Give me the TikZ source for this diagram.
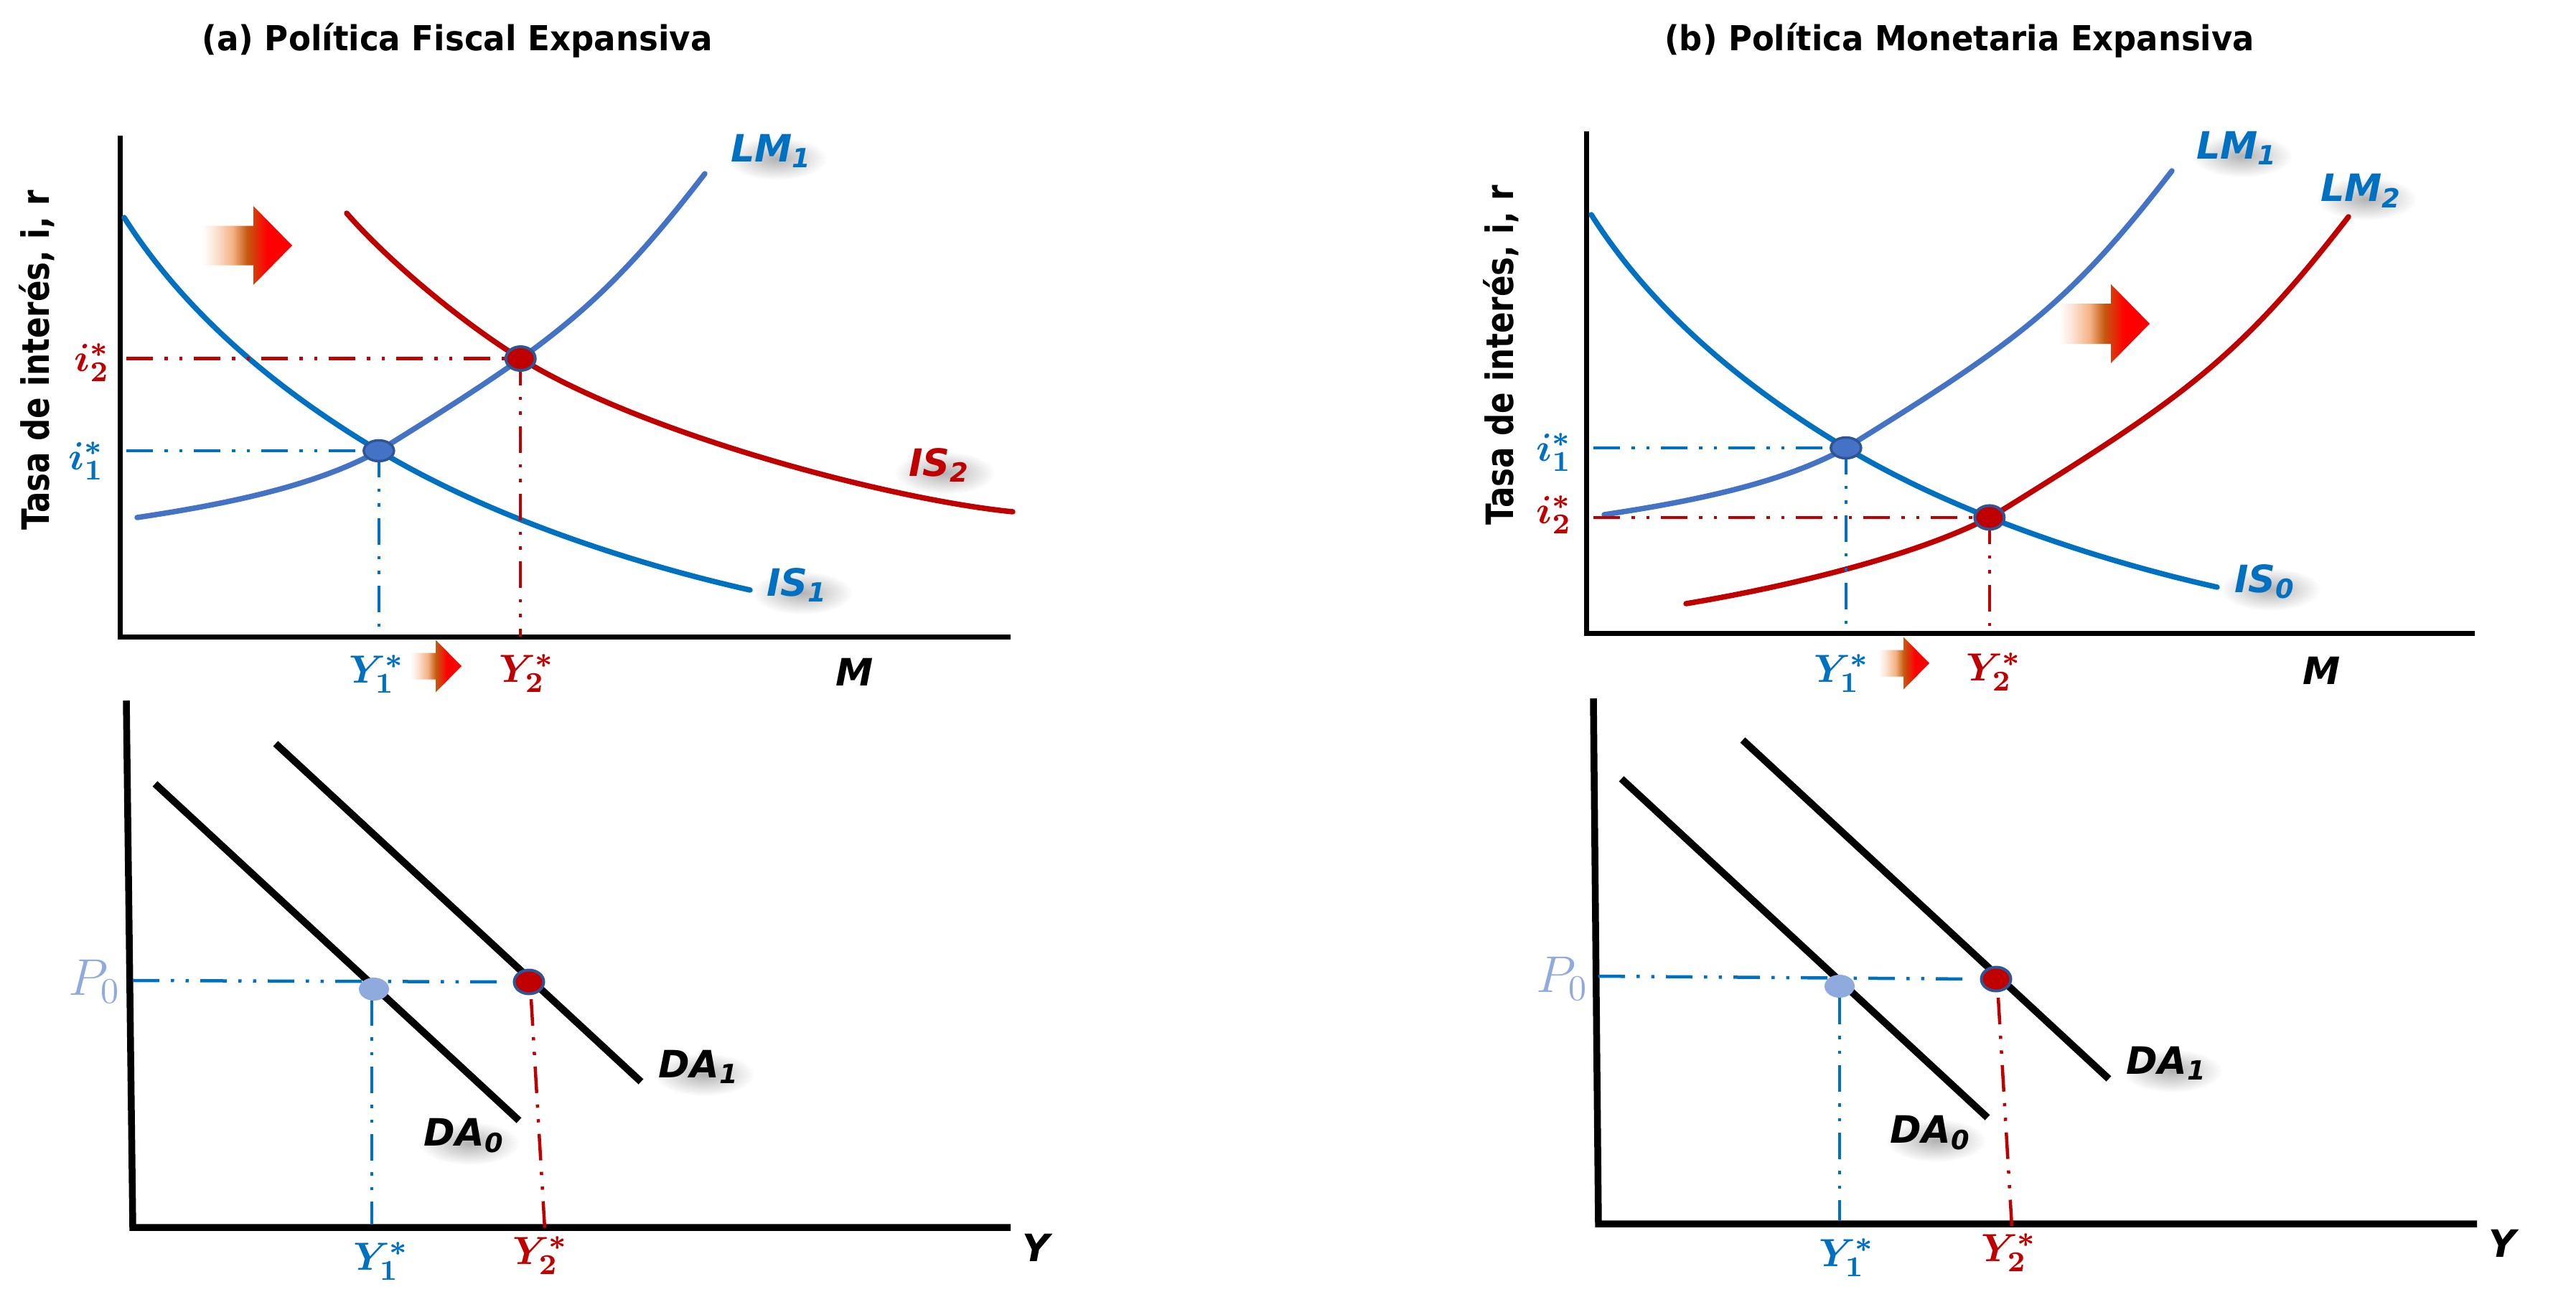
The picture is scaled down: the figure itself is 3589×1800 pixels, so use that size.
\documentclass[tikz,border=0pt]{standalone}
\usepackage{fontspec}
\usepackage{bm}
\setmainfont{DejaVu Sans}
\usetikzlibrary{shapes.geometric,intersections,fadings}
\tikzfading[name=softglow, inner color=transparent!0, outer color=transparent!100]
\definecolor{isblue}{HTML}{0070C0}
\definecolor{lmblue}{HTML}{4472C4}
\definecolor{dred}{HTML}{C00000}
\definecolor{dotedge}{HTML}{2F5597}
\definecolor{lightdot}{HTML}{8FAADC}
\definecolor{gpeach}{HTML}{FBE5D6}
\definecolor{gpeachb}{HTML}{F4B183}
\definecolor{gbrown}{HTML}{C55A11}
\definecolor{gred}{HTML}{FF0000}
\pgfdeclarehorizontalshading{arrowgrad}{100bp}{color(0bp)=(white); color(25bp)=(white); color(32bp)=(gpeach); color(42bp)=(gpeachb); color(50bp)=(gbrown); color(61bp)=(gred); color(100bp)=(gred)}
\tikzset{
  curve/.style={line width=1.5pt, line cap=round},
  axtop/.style={line width=1.4pt, black},
  axbot/.style={line width=1.9pt, black},
  daline/.style={line width=2pt, black},
  dd/.style={line width=0.9pt, dash pattern=on 7.4pt off 3.2pt on 0.9pt off 3.2pt on 0.9pt off 3.2pt},
  dotblue/.style={ellipse, fill=lmblue, draw=dotedge, line width=0.7pt, minimum width=8.4pt, minimum height=5.8pt, inner sep=0pt},
  dotred/.style={ellipse, fill=dred, draw=dotedge, line width=0.8pt, minimum width=8.2pt, minimum height=6.6pt, inner sep=0pt},
  dotlight/.style={ellipse, fill=lightdot, minimum width=8.4pt, minimum height=6.4pt, inner sep=0pt},
  titlef/.style={font=\fontsize{9.6}{11}\selectfont\bfseries, inner sep=0pt},
  ylabf/.style={font=\fontsize{10.5}{12}\selectfont\bfseries, rotate=90, inner sep=0pt},
  lbl/.style={font=\fontsize{10.5}{12}\selectfont\bfseries\itshape, inner sep=0pt},
  mlab/.style={font=\fontsize{11}{13}\selectfont, inner sep=0pt},
  plab/.style={font=\fontsize{14}{16}\selectfont, text=lightdot, inner sep=0pt},
  glow/.style={fill=black, opacity=0.3, path fading=softglow},
}
\newcommand{\shlab}[4]{%
  \fill[glow, shift={(7,11)}] (#2) ellipse [x radius=14pt, y radius=6pt];
  \node[lbl, text=#3] (#1) at (#2) {#4};}
\newcommand{\mstar}[2]{$\bm{#1}^{\bm{*}}_{\bm{#2}}$}
\newcommand{\gradarrow}[6]{% x0, yc, body length, body half, head length, head half
  \shade[shading=arrowgrad] (#1,{#2-#4}) -- ({#1+#3},{#2-#4}) -- ({#1+#3},{#2-#6}) -- ({#1+#3+#5},#2) -- ({#1+#3},{#2+#6}) -- ({#1+#3},{#2+#4}) -- (#1,{#2+#4}) -- cycle;}
\begin{document}
\begin{tikzpicture}[x=0.2pt,y=-0.2pt]
\useasboundingbox[fill=white] (0,0) rectangle (3589,1800);

% ---------- titles ----------
\node[titlef, anchor=base] (tA) at (637,70) {\scalebox{0.94}[1]{(a) Política Fiscal Expansiva}};
\node[titlef, anchor=base] (tB) at (2730,70) {\scalebox{0.935}[1]{(b) Política Monetaria Expansiva}};
\node[ylabf] (yA) at (51,502) {\scalebox{0.83}[1]{Tasa de interés, i, r}};
\node[ylabf] (yB) at (2091,495) {\scalebox{0.83}[1]{Tasa de interés, i, r}};

% ================= (a) top =================
\coordinate (aO) at (167,887);
\coordinate (aAx) at (176,0);
\draw[axtop] (167,189) -- (aO) -- (1408,887);
\draw[curve, isblue, name path=aIS] (173,303) .. controls (263,445) and (400,552) .. (528,628) .. controls (698,730) and (915,793) .. (1045,822);
\draw[curve, lmblue, name path=aLM] (191,721) .. controls (311,703) and (438,678) .. (528,628) .. controls (765,481) and (838,429) .. (982,242);
\draw[curve, dred, name path=aISb] (483,297) .. controls (543,366) and (651,455) .. (731,503) .. controls (902,606) and (1240,696) .. (1411,713);
\path[name intersections={of=aIS and aLM, by=aE1}];
\path[name intersections={of=aISb and aLM, by=aE2}];
\draw[dd, dred] (aE2 -| aAx) -- (aE2);
\draw[dd, isblue] (aE1 -| aAx) -- (aE1);
\draw[dd, isblue] (aE1) -- (aE1 |- aO);
\draw[dd, dred] (aE2) -- (aE2 |- aO);
\node[dotblue] (aD1) at (aE1) {};
\node[dotred] (aD2) at (aE2) {};
\gradarrow{282}{342}{71}{27.5}{54}{55}
\gradarrow{572}{928}{35}{18.5}{36}{36.5}
\shlab{aLM1}{1075,210}{isblue}{LM\textsubscript{1}}
\shlab{aIS2}{1309,648}{dred}{IS\textsubscript{2}}
\shlab{aIS1}{1111,815}{isblue}{IS\textsubscript{1}}
\node[mlab, text=dred] (ai2l) at (128,505) {\mstar{i}{2}};
\node[mlab, text=isblue] (ai1l) at (120,642) {\mstar{i}{1}};
\node[mlab, text=isblue] (aY1l) at (525,939) {\mstar{Y}{1}};
\node[mlab, text=dred] (aY2l) at (734,938) {\mstar{Y}{2}};
\node[lbl] (aM) at (1191,936) {M};

% ================= (a) bottom =================
\draw[axbot] (176,976) -- (185,1710) -- (1408,1710);
\draw[daline] (216,1092) -- (723,1561);
\draw[daline] (384,1036) -- (893,1507);
\coordinate (aP0) at (185,1366);
\coordinate (aB1) at (521,1378);
\coordinate (aB2) at (737,1368);
\coordinate (aBY1) at (518,1705);
\draw[dd, isblue] (aP0) -- (700,1368);
\draw[dd, isblue] (518,1392) -- (aBY1);
\draw[dd, dred] (740,1392) -- (759,1712);
\node[dotlight] (aBD1) at (aB1) {};
\node[dotred] (aBD2) at (aB2) {};
\node[plab] (aP0l) at (132,1367) {$P_0$};
\shlab{aDA1}{974,1486}{black}{DA\textsubscript{1}}
\shlab{aDA0}{647,1582}{black}{DA\textsubscript{0}}
\node[mlab, text=isblue] (aBY1l) at (531,1757) {\mstar{Y}{1}};
\node[mlab, text=dred] (aBY2l) at (753,1749) {\mstar{Y}{2}};
\node[lbl] (aYl) at (1443,1738) {Y};

% ================= (b) top =================
\coordinate (bO) at (2210,882);
\coordinate (bAx) at (2220,0);
\draw[axtop] (2210,183) -- (bO) -- (3448,882);
\draw[curve, isblue, name path=bIS, shift={(2044,-4)}] (173,303) .. controls (263,445) and (400,552) .. (528,628) .. controls (698,730) and (915,793) .. (1045,822);
\draw[curve, lmblue, name path=bLM, shift={(2044,-4)}] (191,721) .. controls (311,703) and (438,678) .. (528,628) .. controls (765,481) and (838,429) .. (982,242);
\draw[curve, dred, name path=bLMb] (2349,841) .. controls (2499,816) and (2681,771) .. (2781,716) .. controls (3037,557) and (3116,504) .. (3272,302);
\path[name intersections={of=bIS and bLM, by=bE1}];
\path[name intersections={of=bIS and bLMb, by=bE2}];
\draw[dd, isblue] (bE1 -| bAx) -- (bE1);
\draw[dd, dred] (bE2 -| bAx) -- (bE2);
\draw[dd, isblue] (bE1) -- (bE1 |- bO);
\draw[dd, dred] (bE2) -- (bE2 |- bO);
\node[dotblue] (bD1) at (bE1) {};
\node[dotred] (bD2) at (bE2) {};
\gradarrow{2869}{451}{72}{28}{54}{55}
\gradarrow{2617}{924}{35}{18.5}{36}{36.5}
\shlab{bLM1}{3117,206}{isblue}{LM\textsubscript{1}}
\shlab{bLM2}{3290,266}{isblue}{LM\textsubscript{2}}
\shlab{bIS0}{3156,810}{isblue}{IS\textsubscript{0}}
\node[mlab, text=isblue] (bi1l) at (2165,630) {\mstar{i}{1}};
\node[mlab, text=dred] (bi2l) at (2165,717) {\mstar{i}{2}};
\node[mlab, text=isblue] (bY1l) at (2566,938) {\mstar{Y}{1}};
\node[mlab, text=dred] (bY2l) at (2778,936) {\mstar{Y}{2}};
\node[lbl] (bM) at (3235,934) {M};

% ================= (b) bottom =================
\draw[axbot] (2220,973) -- (2227,1705) -- (3451,1705);
\draw[daline] (2259,1085) -- (2769,1557);
\draw[daline] (2428,1031) -- (2938,1503);
\coordinate (bP0) at (2227,1360);
\coordinate (bB1) at (2563,1374);
\coordinate (bB2) at (2781,1364);
\draw[dd, isblue] (bP0) -- (2748,1364);
\draw[dd, isblue] (2563,1390) -- (2563,1700);
\draw[dd, dred] (2784,1390) -- (2803,1709);
\node[dotlight] (bBD1) at (bB1) {};
\node[dotred] (bBD2) at (bB2) {};
\node[plab] (bP0l) at (2177,1363) {$P_0$};
\shlab{bDA1}{3019,1481}{black}{DA\textsubscript{1}}
\shlab{bDA0}{2690,1578}{black}{DA\textsubscript{0}}
\node[mlab, text=isblue] (bBY1l) at (2573,1752) {\mstar{Y}{1}};
\node[mlab, text=dred] (bBY2l) at (2799,1745) {\mstar{Y}{2}};
\node[lbl] (bYl) at (3486,1732) {Y};
\end{tikzpicture}
\end{document}
